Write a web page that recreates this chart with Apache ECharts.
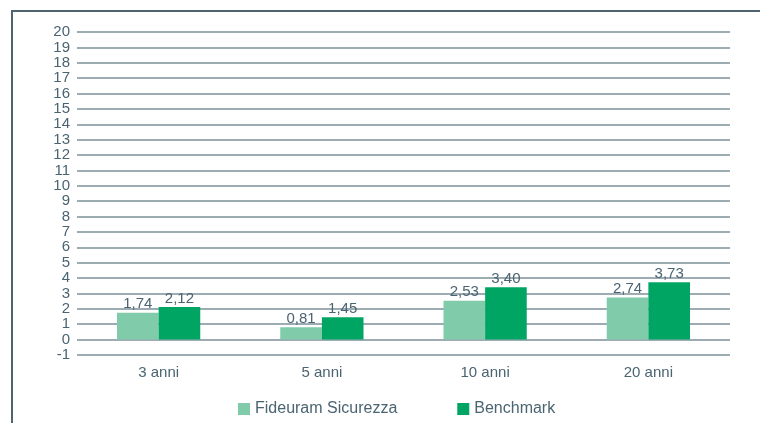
<!DOCTYPE html>
<html>
<head>
<meta charset="utf-8">
<script src="https://cdn.jsdelivr.net/npm/echarts@6/dist/echarts.min.js"></script>
<style>
html,body{margin:0;padding:0;background:#fff;}
#chart{width:760px;height:423px;}
</style>
</head>
<body>
<div id="chart"></div>
<script>
var categories = ['3 anni', '5 anni', '10 anni', '20 anni'];
var fondo = [1.74, 0.81, 2.53, 2.74];
var benchmark = [2.12, 1.45, 3.40, 3.73];
var serieNames = ['Fideuram Sicurezza', 'Benchmark'];

var textColor = '#4a6472';
var font = 'Liberation Sans, Arial, sans-serif';

function fmt(v){
    return v.toFixed(2).replace('.', ',');
}

var myChart = echarts.init(document.getElementById('chart'));
var option = {
    animation: false,
    color: ['#80cbaa', '#00a564'],
    textStyle: {fontFamily: font},
    graphic: [
        {type: 'line', shape: {x1: 12, y1: 11, x2: 760, y2: 11}, style: {stroke: '#4f6470', lineWidth: 2}},
        {type: 'line', shape: {x1: 12, y1: 10, x2: 12, y2: 423}, style: {stroke: '#4f6470', lineWidth: 2}}
    ],
    legend: {
        top: 396,
        left: 233,
        itemGap: 60,
        itemWidth: 12,
        itemHeight: 12,
        icon: 'rect',
        textStyle: {color: textColor, fontSize: 16, fontFamily: font},
        data: serieNames
    },
    grid: {left: 77, right: 30, top: 32, bottom: 68},
    xAxis: {
        type: 'category',
        data: categories,
        axisLine: {show: false},
        axisTick: {show: false},
        axisLabel: {color: textColor, fontSize: 15, margin: 10, fontFamily: font}
    },
    yAxis: {
        type: 'value',
        min: -1,
        max: 20,
        interval: 1,
        axisLine: {show: false},
        axisTick: {show: false},
        axisLabel: {color: textColor, fontSize: 15, margin: 7, fontFamily: font},
        splitLine: {lineStyle: {color: '#7d8f99', width: 1.5}}
    },
    series: [
        {
            name: serieNames[0],
            type: 'bar',
            data: fondo,
            barGap: '0%',
            barCategoryGap: '49%',
            label: {show: true, position: 'top', distance: 1, color: textColor, fontSize: 15, fontFamily: font,
                formatter: function(p){ return fmt(p.value); }}
        },
        {
            name: serieNames[1],
            type: 'bar',
            data: benchmark,
            label: {show: true, position: 'top', distance: 1, color: textColor, fontSize: 15, fontFamily: font,
                formatter: function(p){ return fmt(p.value); }}
        }
    ]
};
myChart.setOption(option);
</script>
</body>
</html>
